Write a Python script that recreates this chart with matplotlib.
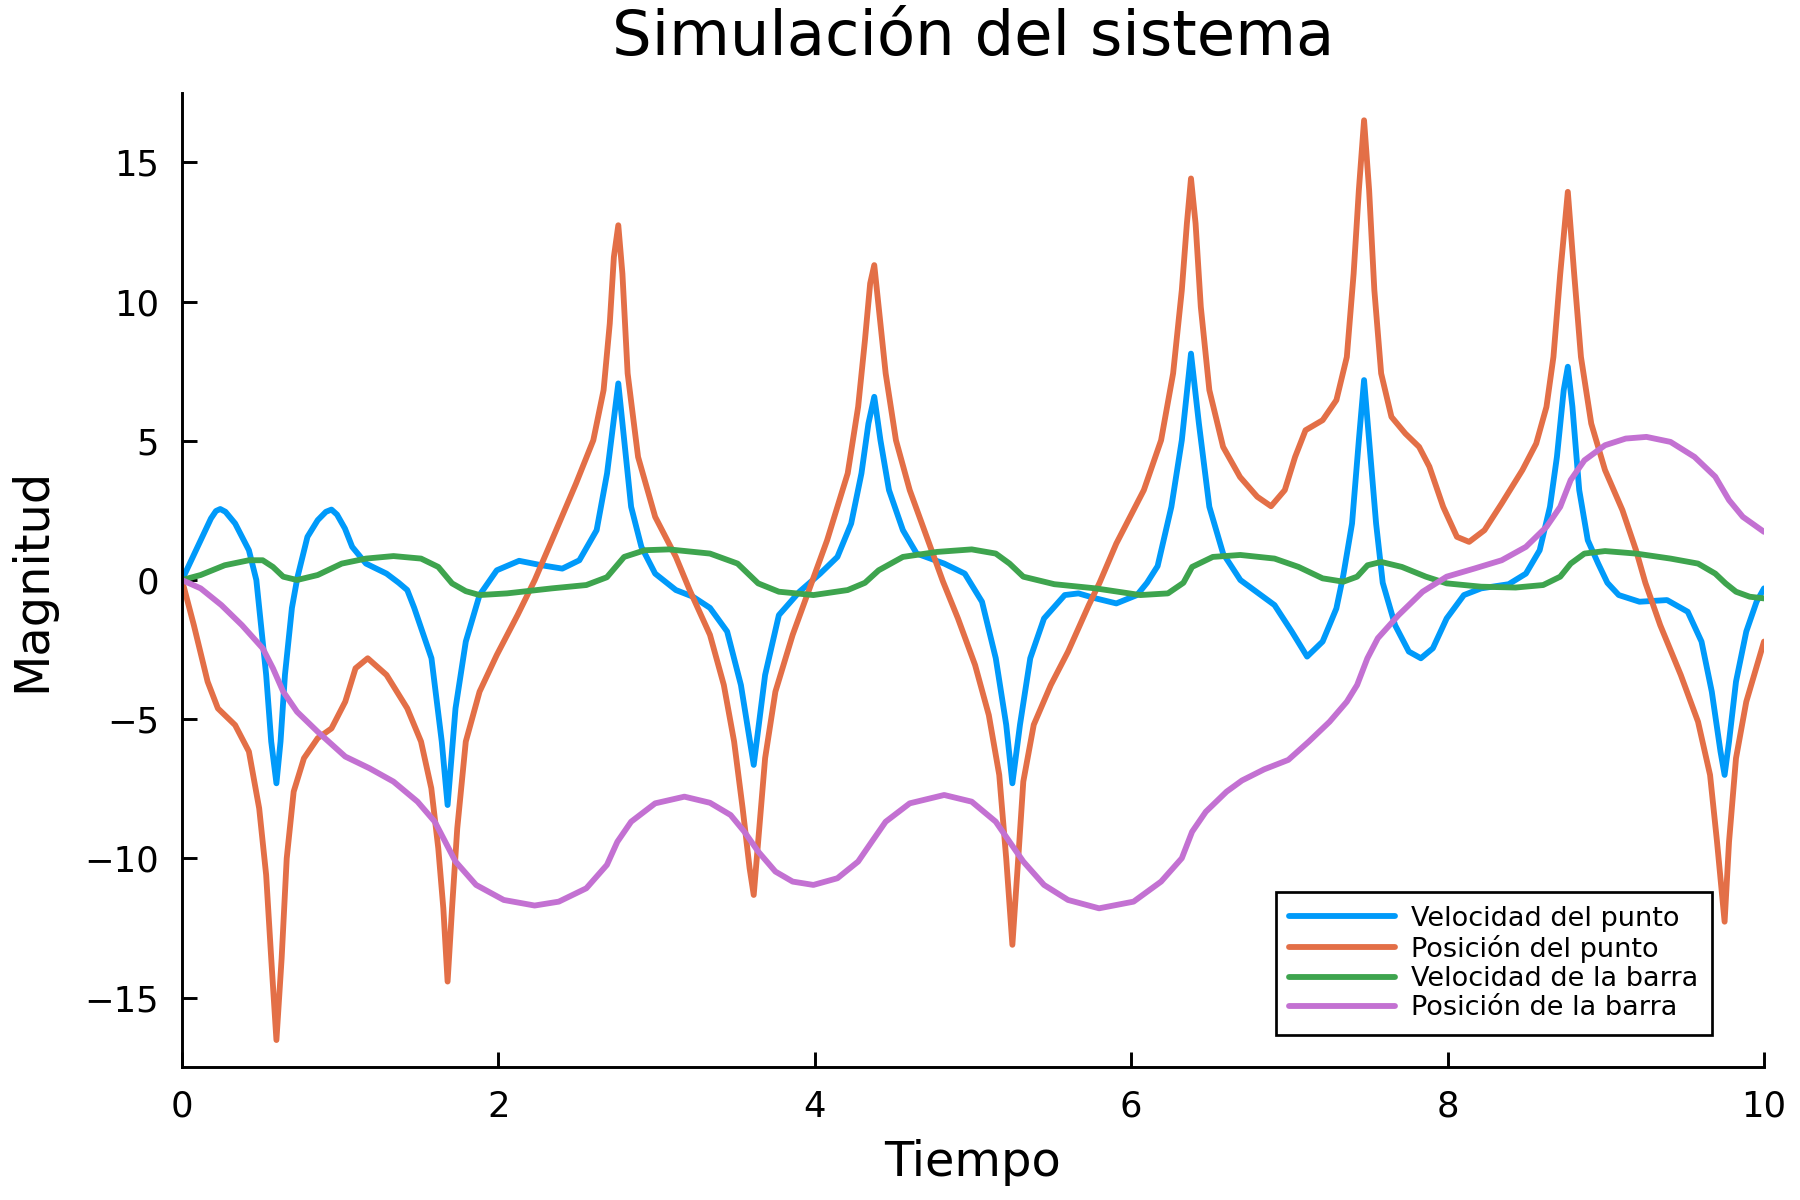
import matplotlib
matplotlib.use("Agg")
import matplotlib.pyplot as plt

# ──────────────────────────────────────────────
#  Data
# ──────────────────────────────────────────────

t_vel_punto = [0.0, 0.118, 0.183, 0.215, 0.242, 0.275, 0.336, 0.423, 0.47, 0.532,
               0.564, 0.597, 0.623, 0.651, 0.695, 0.73, 0.793, 0.858, 0.91, 0.945,
               0.98, 1.03, 1.076, 1.163, 1.293, 1.37, 1.424, 1.468, 1.577, 1.642,
               1.679, 1.729, 1.794, 1.881, 1.99, 2.131, 2.273, 2.404, 2.512, 2.621,
               2.687, 2.726, 2.758, 2.795, 2.839, 2.904, 2.991, 3.122, 3.23, 3.3375,
               3.446, 3.533, 3.614, 3.686, 3.773, 3.903, 4.034, 4.143, 4.23, 4.295,
               4.339, 4.376, 4.415, 4.469, 4.557, 4.644, 4.818, 4.948, 5.057, 5.144,
               5.21, 5.249, 5.297, 5.362, 5.449, 5.58, 5.667, 5.776, 5.906, 6.037,
               6.1, 6.167, 6.254, 6.32, 6.378, 6.428, 6.494, 6.581, 6.69, 6.906,
               7.015, 7.112, 7.21, 7.297, 7.341, 7.396, 7.439, 7.472, 7.504, 7.548,
               7.59, 7.668, 7.755, 7.831, 7.907, 7.994, 8.103, 8.212, 8.386, 8.495,
               8.582, 8.647, 8.691, 8.734, 8.76, 8.789, 8.832, 8.886, 8.952, 9.01,
               9.082, 9.213, 9.387, 9.518, 9.605, 9.67, 9.725, 9.751, 9.779, 9.823,
               9.888, 9.953, 10.0]
vel_punto = [0.0, 1.43, 2.21, 2.48, 2.55, 2.45, 2.03, 1.07, 0.0, -3.4,
             -5.8, -7.3, -5.8, -3.4, -1.0, 0.1, 1.55, 2.15, 2.45, 2.53,
             2.35, 1.85, 1.19, 0.59, 0.23, -0.1, -0.36, -1.0, -2.81, -5.8,
             -8.08, -4.61, -2.21, -0.54, 0.35, 0.69, 0.53, 0.41, 0.71, 1.79,
             3.83, 5.62, 7.06, 5.02, 2.63, 1.19, 0.23, -0.36, -0.6, -1.0,
             -1.85, -3.77, -6.64, -3.41, -1.26, -0.42, 0.23, 0.83, 2.03, 3.83,
             5.62, 6.58, 5.02, 3.23, 1.79, 0.95, 0.59, 0.23, -0.78, -2.81,
             -5.2, -7.3, -5.2, -2.81, -1.38, -0.54, -0.48, -0.66, -0.84, -0.54,
             -0.1, 0.5, 2.63, 5.02, 8.13, 5.62, 2.63, 0.95, 0.0, -0.9,
             -1.85, -2.75, -2.21, -1.02, 0.18, 2.03, 5.02, 7.18, 5.02, 2.03,
             -0.1, -1.62, -2.57, -2.81, -2.45, -1.38, -0.54, -0.3, -0.15, 0.23,
             1.07, 2.63, 4.42, 6.82, 7.66, 6.22, 3.23, 1.43, 0.59, -0.1,
             -0.54, -0.78, -0.72, -1.14, -2.21, -4.01, -6.16, -7.0, -5.8, -3.65,
             -1.85, -0.78, -0.3]

t_pos_punto = [0.0, 0.075, 0.162, 0.227, 0.336, 0.423, 0.488, 0.532, 0.564, 0.597,
               0.63, 0.662, 0.706, 0.771, 0.858, 0.945, 1.032, 1.097, 1.174, 1.293,
               1.424, 1.511, 1.576, 1.62, 1.652, 1.679, 1.707, 1.74, 1.794, 1.881,
               1.99, 2.121, 2.23, 2.338, 2.491, 2.6, 2.665, 2.704, 2.73, 2.758,
               2.784, 2.817, 2.883, 2.991, 3.122, 3.209, 3.3375, 3.425, 3.49, 3.544,
               3.588, 3.614, 3.642, 3.686, 3.751, 3.86, 3.98, 4.078, 4.208, 4.274,
               4.317, 4.35, 4.376, 4.404, 4.448, 4.513, 4.6, 4.731, 4.81, 4.905,
               5.013, 5.1, 5.166, 5.21, 5.249, 5.286, 5.318, 5.384, 5.492, 5.601,
               5.732, 5.8, 5.906, 6.08, 6.189, 6.265, 6.32, 6.352, 6.378, 6.407,
               6.44, 6.494, 6.581, 6.688, 6.797, 6.884, 6.971, 7.036, 7.102, 7.21,
               7.297, 7.363, 7.406, 7.439, 7.472, 7.504, 7.537, 7.58, 7.645, 7.733,
               7.82, 7.885, 7.972, 8.059, 8.136, 8.233, 8.342, 8.473, 8.56, 8.625,
               8.669, 8.712, 8.76, 8.8, 8.843, 8.908, 8.995, 9.105, 9.191, 9.25,
               9.344, 9.474, 9.583, 9.659, 9.703, 9.751, 9.779, 9.823, 9.888, 10.0]
pos_punto = [0.0, -1.62, -3.65, -4.61, -5.21, -6.16, -8.2, -10.59, -13.58, -16.52,
             -13.58, -10.0, -7.6, -6.4, -5.68, -5.33, -4.37, -3.17, -2.81, -3.41,
             -4.61, -5.8, -7.48, -9.63, -11.79, -14.42, -11.79, -8.92, -5.8, -4.01,
             -2.69, -1.26, 0.0, 1.43, 3.47, 5.02, 6.82, 9.21, 11.6, 12.74,
             11.0, 7.42, 4.42, 2.27, 0.83, -0.36, -1.97, -3.77, -5.8, -8.2,
             -10.35, -11.31, -9.4, -6.4, -4.01, -1.97, -0.1, 1.43, 3.83, 6.22,
             8.61, 10.65, 11.31, 9.81, 7.42, 5.02, 3.23, 1.19, -0.05, -1.38,
             -3.05, -4.85, -7.0, -10.0, -13.1, -10.0, -7.24, -5.2, -3.77, -2.57,
             -0.9, -0.1, 1.31, 3.23, 5.02, 7.42, 10.41, 12.8, 14.42, 12.8,
             9.81, 6.82, 4.78, 3.7, 2.99, 2.65, 3.23, 4.42, 5.38, 5.74,
             6.46, 8.01, 11.0, 14.0, 16.51, 14.0, 10.41, 7.42, 5.86, 5.26,
             4.78, 4.07, 2.63, 1.55, 1.37, 1.79, 2.75, 3.95, 4.9, 6.22,
             8.01, 11.0, 13.94, 11.0, 8.01, 5.62, 3.95, 2.51, 1.07, -0.1,
             -1.62, -3.41, -5.09, -7.0, -9.4, -12.27, -9.4, -6.4, -4.37, -2.21]

t_vel_barra = [0.0, 0.118, 0.27, 0.423, 0.51, 0.575, 0.64, 0.727, 0.858, 1.01,
               1.163, 1.337, 1.511, 1.62, 1.707, 1.794, 1.881, 2.055, 2.338, 2.556,
               2.686, 2.795, 2.926, 3.078, 3.3375, 3.512, 3.642, 3.773, 3.991, 4.208,
               4.317, 4.404, 4.557, 4.774, 4.992, 5.144, 5.231, 5.318, 5.514, 5.775,
               6.058, 6.232, 6.33, 6.385, 6.516, 6.69, 6.906, 7.058, 7.21, 7.341,
               7.428, 7.494, 7.58, 7.711, 7.863, 7.994, 8.212, 8.43, 8.604, 8.712,
               8.778, 8.865, 8.995, 9.191, 9.409, 9.583, 9.692, 9.757, 9.823, 9.91,
               10.0]
vel_barra = [0.0, 0.18, 0.53, 0.71, 0.71, 0.47, 0.12, 0.0, 0.18, 0.59,
             0.77, 0.86, 0.77, 0.47, -0.12, -0.4, -0.54, -0.48, -0.3, -0.18,
             0.1, 0.83, 1.07, 1.1, 0.95, 0.59, -0.12, -0.42, -0.54, -0.36,
             -0.1, 0.35, 0.83, 1.01, 1.1, 0.95, 0.59, 0.12, -0.15, -0.3,
             -0.54, -0.48, -0.1, 0.47, 0.83, 0.9, 0.77, 0.47, 0.06, -0.06,
             0.12, 0.53, 0.65, 0.47, 0.12, -0.12, -0.24, -0.27, -0.18, 0.12,
             0.59, 0.95, 1.04, 0.95, 0.77, 0.59, 0.23, -0.12, -0.42, -0.6,
             -0.66]

t_pos_barra = [0.0, 0.118, 0.249, 0.379, 0.51, 0.575, 0.64, 0.727, 0.858, 1.032,
               1.185, 1.337, 1.489, 1.598, 1.664, 1.729, 1.859, 2.034, 2.229, 2.382,
               2.556, 2.686, 2.752, 2.839, 2.991, 3.176, 3.3375, 3.468, 3.555, 3.642,
               3.751, 3.86, 3.991, 4.143, 4.274, 4.36, 4.448, 4.6, 4.818, 4.992,
               5.144, 5.231, 5.318, 5.449, 5.601, 5.797, 6.015, 6.189, 6.32, 6.385,
               6.472, 6.603, 6.7, 6.84, 6.993, 7.123, 7.254, 7.363, 7.428, 7.493,
               7.559, 7.69, 7.842, 7.994, 8.168, 8.342, 8.495, 8.625, 8.712, 8.778,
               8.865, 8.995, 9.126, 9.257, 9.409, 9.561, 9.692, 9.779, 9.866, 10.0]
pos_barra = [0.0, -0.3, -0.9, -1.62, -2.45, -3.17, -4.01, -4.73, -5.45, -6.34,
             -6.76, -7.24, -7.96, -8.68, -9.4, -10.11, -10.95, -11.49, -11.69, -11.55,
             -11.07, -10.23, -9.4, -8.68, -8.02, -7.78, -8.0, -8.44, -9.04, -9.75,
             -10.47, -10.83, -10.95, -10.71, -10.11, -9.4, -8.68, -8.02, -7.72, -7.96,
             -8.68, -9.4, -10.11, -10.95, -11.49, -11.79, -11.55, -10.83, -9.99, -9.04,
             -8.32, -7.6, -7.2, -6.8, -6.46, -5.8, -5.09, -4.37, -3.77, -2.81,
             -2.09, -1.26, -0.42, 0.12, 0.41, 0.71, 1.19, 1.91, 2.63, 3.59,
             4.3, 4.84, 5.08, 5.14, 4.96, 4.42, 3.71, 2.87, 2.27, 1.73]

series = [
    (t_vel_punto, vel_punto, "Velocidad del punto", "#009AFA"),
    (t_pos_punto, pos_punto, "Posición del punto", "#E36F47"),
    (t_vel_barra, vel_barra, "Velocidad de la barra", "#3EA44E"),
    (t_pos_barra, pos_barra, "Posición de la barra", "#C371D2"),
]

x_ticks = [0, 2, 4, 6, 8, 10]
y_ticks = [-15, -10, -5, 0, 5, 10, 15]

# ──────────────────────────────────────────────
#  Plot
# ──────────────────────────────────────────────

plt.rcParams["font.family"] = ["DejaVu Sans"]

fig, ax = plt.subplots(figsize=(12, 8), dpi=150)
fig.subplots_adjust(left=0.1011, right=0.98, bottom=0.1108, top=0.9225)

for t, v, label, color in series:
    ax.plot(t, v, color=color, linewidth=2.8, label=label,
            solid_joinstyle="round", solid_capstyle="round")

ax.set_xlim(0, 10)
ax.set_ylim(-17.49, 17.49)
ax.set_xticks(x_ticks)
ax.set_yticks(y_ticks)

for side in ("top", "right"):
    ax.spines[side].set_visible(False)
for side in ("left", "bottom"):
    ax.spines[side].set_linewidth(1.4)

ax.tick_params(direction="in", length=7.2, width=1.4, labelsize=17)
ax.tick_params(axis="y", pad=11)
ax.tick_params(axis="x", pad=11)

ax.set_title("Simulación del sistema", fontsize=30, pad=18)
ax.set_xlabel("Tiempo", fontsize=23, labelpad=7)
ax.set_ylabel("Magnitud", fontsize=23, labelpad=14)

leg = ax.legend(loc="lower right", bbox_to_anchor=(0.967, 0.033),
                borderaxespad=0, fontsize=13, handlelength=3.9,
                handletextpad=0.6, labelspacing=0.12, borderpad=0.5,
                fancybox=False, framealpha=1, edgecolor="black")
leg.get_frame().set_linewidth(1.3)
for line in leg.get_lines():
    line.set_linewidth(2.8)

fig.savefig("out.png", dpi=150)
